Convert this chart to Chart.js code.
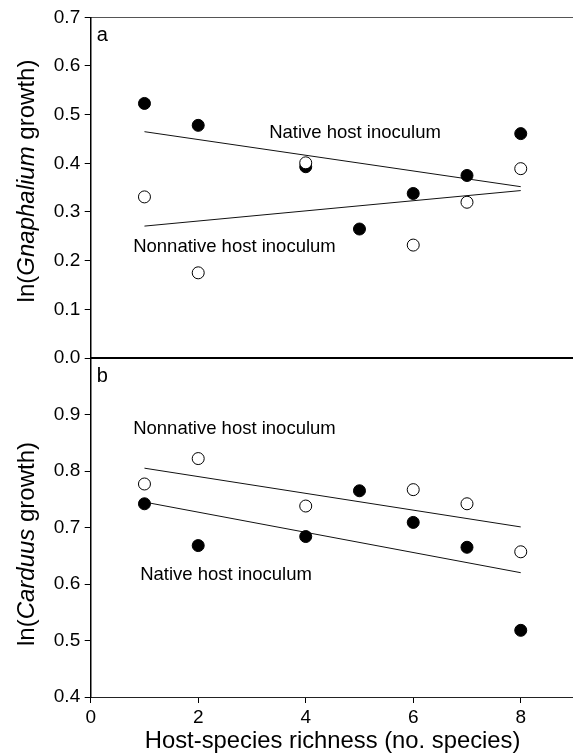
<!DOCTYPE html>
<html><head><meta charset="utf-8">
<script src="https://cdn.jsdelivr.net/npm/chart.js@4.4.1/dist/chart.umd.min.js"></script>
<style>
html,body{margin:0;padding:0;background:#fff;width:573px;height:756px;overflow:hidden}
#wrap{position:relative;width:573px;height:756px;overflow:hidden;background:#fff}
canvas{position:absolute;left:0;top:0}
</style></head><body>
<div id="wrap">
<canvas id="ca" width="575" height="756" style="width:575px;height:756px"></canvas>
<canvas id="cb" width="575" height="756" style="width:575px;height:756px"></canvas>
</div>
<script>
// ---- data ----
const xTicks = [0, 2, 4, 6, 8];
const yTicksA = [0.0, 0.1, 0.2, 0.3, 0.4, 0.5, 0.6, 0.7];
const yTicksB = [0.4, 0.5, 0.6, 0.7, 0.8, 0.9];

// Panel a: Gnaphalium
const xNativeA = [1, 2, 4, 5, 6, 7, 8];
const yNativeA = [0.523, 0.478, 0.393, 0.265, 0.338, 0.375, 0.461];
const xNonA = [1, 2, 4, 6, 7, 8];
const yNonA = [0.331, 0.175, 0.401, 0.232, 0.320, 0.389];
const fitX = [1, 8];
const fitNativeA = [0.465, 0.352];
const fitNonA = [0.271, 0.344];

// Panel b: Carduus
const xNativeB = [1, 2, 4, 5, 6, 7, 8];
const yNativeB = [0.742, 0.668, 0.684, 0.765, 0.709, 0.665, 0.518];
const xNonB = [1, 2, 4, 6, 7, 8];
const yNonB = [0.777, 0.822, 0.738, 0.767, 0.742, 0.657];
const fitNativeB = [0.745, 0.620];
const fitNonB = [0.805, 0.701];

const FONT = '"Liberation Sans", Arial, Helvetica, sans-serif';
const pts = (xs, ys) => xs.map((x, i) => ({x: x, y: ys[i]}));

// draw text labels placed in data coordinates, panel letter, and mixed-style y title
const textPlugin = {
  id: 'texts',
  afterDatasetsDraw(chart, args, opts) {
    const ctx = chart.ctx, xs = chart.scales.x, ys = chart.scales.y;
    ctx.save();
    ctx.fillStyle = '#000';
    ctx.textBaseline = 'middle';
    ctx.textAlign = 'left';
    ctx.font = '18.5px ' + FONT;
    (opts.notes || []).forEach(n => {
      ctx.fillText(n.text, xs.getPixelForValue(n.x), ys.getPixelForValue(n.y));
    });
    // panel letter
    ctx.font = '20px ' + FONT;
    ctx.fillText(opts.letter, chart.chartArea.left + 6, chart.chartArea.top + 18);
    // y title with italic genus name
    const parts = opts.ytitle;
    const size = 24;
    let total = 0;
    parts.forEach(p => { ctx.font = (p.i ? 'italic ' : '') + size + 'px ' + FONT; p.w = ctx.measureText(p.t).width; total += p.w; });
    ctx.translate(opts.ytx, opts.yty);
    ctx.rotate(-Math.PI / 2);
    ctx.textBaseline = 'alphabetic';
    let cx = -total / 2;
    parts.forEach(p => { ctx.font = (p.i ? 'italic ' : '') + size + 'px ' + FONT; ctx.fillText(p.t, cx, 0); cx += p.w; });
    ctx.restore();
  }
};

function yAxis(ticks, fmtHideTop) {
  return {
    type: 'linear',
    position: 'left',
    min: ticks[0],
    max: fmtHideTop ? 1.0 : ticks[ticks.length - 1],
    afterBuildTicks: s => { s.ticks = ticks.map(v => ({value: v})); },
    afterFit: s => { s.width = 90.7; s.paddingTop = 0; s.paddingBottom = 0; },
    ticks: {color: '#000', font: {family: FONT, size: 19}, padding: 4.5,
            callback: v => Number(v).toFixed(1)},
    grid: {display: true, drawOnChartArea: false, drawTicks: true, tickLength: 6, color: '#000', lineWidth: 1},
    border: {display: true, color: '#000', width: 1.5}
  };
}

function plainX(pos, color, width) {
  return {
    type: 'linear', position: pos, min: 0, max: 9,
    afterFit: s => { s.height = 0; s.paddingLeft = 0; s.paddingRight = 0; },
    ticks: {display: false},
    grid: {display: false},
    border: {display: true, color: color, width: width}
  };
}

function datasets(xN, yN, xO, yO, fN, fO) {
  return [
    {label: 'nonnative', data: pts(xO, yO), order: 0, pointRadius: 6, pointBackgroundColor: '#fff',
     pointBorderColor: '#000', pointBorderWidth: 1, showLine: false},
    {label: 'native', data: pts(xN, yN), order: 1, pointRadius: 6, pointBackgroundColor: '#000',
     pointBorderColor: '#000', pointBorderWidth: 1, showLine: false},
    {label: 'fitNative', data: pts(fitX, fN), order: 2, showLine: true, pointRadius: 0,
     borderColor: '#111', borderWidth: 1, fill: false},
    {label: 'fitNon', data: pts(fitX, fO), order: 2, showLine: true, pointRadius: 0,
     borderColor: '#111', borderWidth: 1, fill: false}
  ];
}

const common = {
  responsive: false, animation: false, devicePixelRatio: 1, events: [],
  plugins: {legend: {display: false}, tooltip: {enabled: false}}
};

new Chart(document.getElementById('ca'), {
  type: 'scatter',
  data: {datasets: datasets(xNativeA, yNativeA, xNonA, yNonA, fitNativeA, fitNonA)},
  options: Object.assign({}, common, {
    layout: {autoPadding: false, padding: {top: 17.3, bottom: 756 - 358, left: 0, right: 0.5}},
    scales: {
      x: plainX('top', '#555', 1),
      x2: plainX('bottom', '#000', 2),
      y: yAxis(yTicksA, false)
    },
    plugins: {
      legend: {display: false}, tooltip: {enabled: false},
      texts: {
        notes: [
          {text: 'Native host inoculum', x: 3.32, y: 0.462},
          {text: 'Nonnative host inoculum', x: 0.79, y: 0.228}
        ],
        letter: 'a',
        ytitle: [{t: 'ln(', i: false}, {t: 'Gnaphalium', i: true}, {t: ' growth)', i: false}],
        ytx: 34, yty: 181
      }
    }
  }),
  plugins: [textPlugin]
});

new Chart(document.getElementById('cb'), {
  type: 'scatter',
  data: {datasets: datasets(xNativeB, yNativeB, xNonB, yNonB, fitNativeB, fitNonB)},
  options: Object.assign({}, common, {
    layout: {autoPadding: false, padding: {top: 358, bottom: 0, left: 0, right: 0.5}},
    scales: {
      x: {
        type: 'linear', position: 'bottom', min: 0, max: 9,
        afterBuildTicks: s => { s.ticks = xTicks.map(v => ({value: v})); },
        afterFit: s => { s.height = 59; s.paddingLeft = 0; s.paddingRight = 0; },
        ticks: {color: '#000', font: {family: FONT, size: 19}, padding: 3, maxRotation: 0},
        grid: {display: true, drawOnChartArea: false, drawTicks: true, tickLength: 6, color: '#000', lineWidth: 1},
        border: {display: true, color: '#222', width: 1},
        title: {display: true, text: 'Host-species richness (no. species)', color: '#000',
                font: {family: FONT, size: 23.8}, padding: {top: 0, bottom: 0}}
      },
      y: yAxis(yTicksB, true)
    },
    plugins: {
      legend: {display: false}, tooltip: {enabled: false},
      texts: {
        notes: [
          {text: 'Nonnative host inoculum', x: 0.79, y: 0.874},
          {text: 'Native host inoculum', x: 0.92, y: 0.616}
        ],
        letter: 'b',
        ytitle: [{t: 'ln(', i: false}, {t: 'Carduus', i: true}, {t: ' growth)', i: false}],
        ytx: 34, yty: 544
      }
    }
  }),
  plugins: [textPlugin]
});
</script>
</body></html>
